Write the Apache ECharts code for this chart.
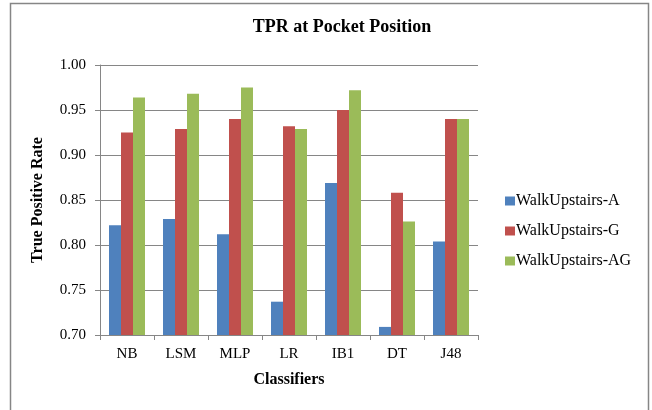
<!DOCTYPE html>
<html>
<head>
<meta charset="utf-8">
<script src="https://cdn.jsdelivr.net/npm/echarts@6/dist/echarts.min.js"></script>
<style>
  html, body { margin: 0; padding: 0; background: #fff; }
  #chart { width: 652px; height: 410px; }
</style>
</head>
<body>
<div id="chart"></div>
<script>
var categories = ['NB', 'LSM', 'MLP', 'LR', 'IB1', 'DT', 'J48'];
var walkA = [0.822, 0.829, 0.812, 0.737, 0.869, 0.709, 0.804];
var walkG = [0.925, 0.929, 0.940, 0.932, 0.950, 0.858, 0.940];
var walkAG = [0.964, 0.968, 0.975, 0.929, 0.972, 0.826, 0.940];
var seriesNames = ['WalkUpstairs-A', 'WalkUpstairs-G', 'WalkUpstairs-AG'];

var serif = '"Liberation Serif", "Times New Roman", serif';

var dom = document.getElementById('chart');
var myChart = echarts.init(dom, null, { renderer: 'canvas' });

var option = {
    animation: false,
    color: ['#4F81BD', '#C0504D', '#9BBB59'],
    graphic: [{
        type: 'rect',
        shape: { x: 10.5, y: 3.5, width: 638, height: 430 },
        style: { fill: 'none', stroke: '#868686', lineWidth: 1.5 },
        silent: true
    }],
    title: {
        text: 'TPR at Pocket Position',
        left: 337,
        top: 13,
        textAlign: 'center',
        textStyle: { fontFamily: serif, fontSize: 18, fontWeight: 'bold', color: '#000' }
    },
    legend: {
        orient: 'vertical',
        left: 500,
        top: 188,
        itemWidth: 10,
        itemHeight: 9,
        itemGap: 14,
        icon: 'rect',
        textStyle: { fontFamily: serif, fontSize: 16, color: '#000', padding: [0, 0, 0, -4] },
        data: seriesNames
    },
    grid: { left: 100, right: 174, top: 65, bottom: 75 },
    xAxis: {
        type: 'category',
        data: categories,
        name: 'Classifiers',
        nameLocation: 'middle',
        nameGap: 37,
        nameTextStyle: { fontFamily: serif, fontSize: 16, fontWeight: 'bold', color: '#000' },
        axisLine: { lineStyle: { color: '#868686' } },
        axisTick: { show: true, length: 5, lineStyle: { color: '#868686' } },
        axisLabel: { fontFamily: serif, fontSize: 15, color: '#000', margin: 12 }
    },
    yAxis: {
        type: 'value',
        min: 0.70,
        max: 1.00,
        interval: 0.05,
        name: 'True Positive Rate',
        nameLocation: 'middle',
        nameGap: 54,
        nameTextStyle: { fontFamily: serif, fontSize: 16, fontWeight: 'bold', color: '#000' },
        axisLine: { show: true, lineStyle: { color: '#868686' } },
        axisTick: { show: true, length: 5, lineStyle: { color: '#868686' } },
        axisLabel: {
            fontFamily: serif, fontSize: 15, color: '#000', margin: 14,
            formatter: function (v) { return v.toFixed(2); }
        },
        splitLine: { lineStyle: { color: '#868686' } }
    },
    series: [
        { name: seriesNames[0], type: 'bar', data: walkA, barWidth: 12, barGap: '0%' },
        { name: seriesNames[1], type: 'bar', data: walkG, barWidth: 12, barGap: '0%' },
        { name: seriesNames[2], type: 'bar', data: walkAG, barWidth: 12, barGap: '0%' }
    ]
};

myChart.setOption(option);
window.addEventListener('resize', myChart.resize);
</script>
</body>
</html>
